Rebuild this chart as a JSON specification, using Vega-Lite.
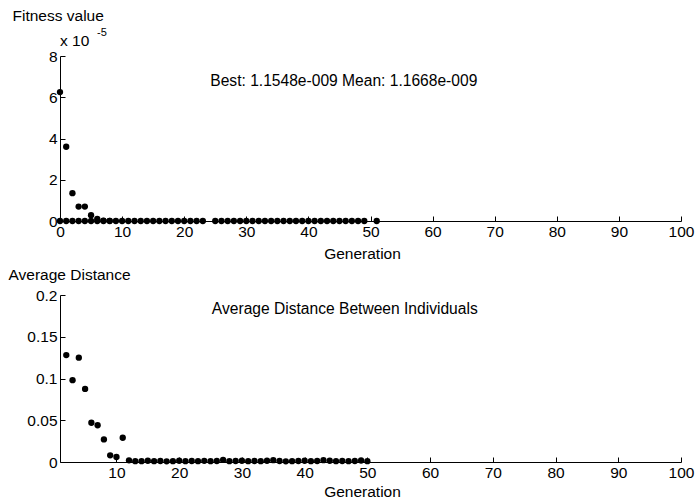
{
  "$schema": "https://vega.github.io/schema/vega-lite/v6.json",
  "background": "white",
  "padding": {"left": 8, "top": 8, "right": 10, "bottom": 4},
  "config": {
    "view": {"stroke": null},
    "font": "Liberation Sans",
    "axis": {
      "grid": false,
      "domainColor": "black",
      "tickColor": "black",
      "labelColor": "black",
      "titleColor": "black",
      "labelFont": "Liberation Sans",
      "titleFont": "Liberation Sans",
      "labelFontSize": 15.5,
      "titleFontSize": 15.5,
      "titleFontWeight": "normal",
      "tickSize": -5,
      "labelPadding": 8,
      "labelFlush": false,
      "labelOverlap": false
    }
  },
  "bounds": "flush",
  "spacing": 74,
  "datasets": {
    "fitness": [
      {"generation": 0, "series": "Mean", "value": 6.25e-5},
      {"generation": 1, "series": "Mean", "value": 3.6e-5},
      {"generation": 2, "series": "Mean", "value": 1.35e-5},
      {"generation": 3, "series": "Mean", "value": 0.7e-5},
      {"generation": 4, "series": "Mean", "value": 0.7e-5},
      {"generation": 5, "series": "Mean", "value": 0.28e-5},
      {"generation": 6, "series": "Mean", "value": 0.1e-5},
      {"generation": 7, "series": "Mean", "value": 0.02e-5},
      {"generation": 8, "series": "Mean", "value": 0.01e-5},
      {"generation": 0, "series": "Best", "value": 0},
      {"generation": 1, "series": "Best", "value": 0},
      {"generation": 2, "series": "Best", "value": 0},
      {"generation": 3, "series": "Best", "value": 0},
      {"generation": 4, "series": "Best", "value": 0},
      {"generation": 5, "series": "Best", "value": 0},
      {"generation": 6, "series": "Best", "value": 0},
      {"generation": 7, "series": "Best", "value": 0},
      {"generation": 8, "series": "Best", "value": 0},
      {"generation": 9, "series": "Best", "value": 0},
      {"generation": 10, "series": "Best", "value": 0},
      {"generation": 11, "series": "Best", "value": 0},
      {"generation": 12, "series": "Best", "value": 0},
      {"generation": 13, "series": "Best", "value": 0},
      {"generation": 14, "series": "Best", "value": 0},
      {"generation": 15, "series": "Best", "value": 0},
      {"generation": 16, "series": "Best", "value": 0},
      {"generation": 17, "series": "Best", "value": 0},
      {"generation": 18, "series": "Best", "value": 0},
      {"generation": 19, "series": "Best", "value": 0},
      {"generation": 20, "series": "Best", "value": 0},
      {"generation": 21, "series": "Best", "value": 0},
      {"generation": 22, "series": "Best", "value": 0},
      {"generation": 23, "series": "Best", "value": 0},
      {"generation": 25, "series": "Best", "value": 0},
      {"generation": 26, "series": "Best", "value": 0},
      {"generation": 27, "series": "Best", "value": 0},
      {"generation": 28, "series": "Best", "value": 0},
      {"generation": 29, "series": "Best", "value": 0},
      {"generation": 30, "series": "Best", "value": 0},
      {"generation": 31, "series": "Best", "value": 0},
      {"generation": 32, "series": "Best", "value": 0},
      {"generation": 33, "series": "Best", "value": 0},
      {"generation": 34, "series": "Best", "value": 0},
      {"generation": 35, "series": "Best", "value": 0},
      {"generation": 36, "series": "Best", "value": 0},
      {"generation": 37, "series": "Best", "value": 0},
      {"generation": 38, "series": "Best", "value": 0},
      {"generation": 39, "series": "Best", "value": 0},
      {"generation": 40, "series": "Best", "value": 0},
      {"generation": 41, "series": "Best", "value": 0},
      {"generation": 42, "series": "Best", "value": 0},
      {"generation": 43, "series": "Best", "value": 0},
      {"generation": 44, "series": "Best", "value": 0},
      {"generation": 45, "series": "Best", "value": 0},
      {"generation": 46, "series": "Best", "value": 0},
      {"generation": 47, "series": "Best", "value": 0},
      {"generation": 48, "series": "Best", "value": 0},
      {"generation": 49, "series": "Best", "value": 0},
      {"generation": 51, "series": "Best", "value": 0}
    ],
    "distance": [
      {"generation": 2, "value": 0.128},
      {"generation": 3, "value": 0.098},
      {"generation": 4, "value": 0.125},
      {"generation": 5, "value": 0.0875},
      {"generation": 6, "value": 0.047},
      {"generation": 7, "value": 0.044},
      {"generation": 8, "value": 0.027},
      {"generation": 9, "value": 0.008},
      {"generation": 10, "value": 0.006},
      {"generation": 11, "value": 0.029},
      {"generation": 12, "value": 0.002},
      {"generation": 13, "value": 0.001},
      {"generation": 14, "value": 0.001},
      {"generation": 15, "value": 0.0015},
      {"generation": 16, "value": 0.001},
      {"generation": 17, "value": 0.0012},
      {"generation": 18, "value": 0.0008},
      {"generation": 19, "value": 0.001},
      {"generation": 20, "value": 0.0015},
      {"generation": 21, "value": 0.001},
      {"generation": 22, "value": 0.0012},
      {"generation": 23, "value": 0.001},
      {"generation": 24, "value": 0.0014},
      {"generation": 25, "value": 0.001},
      {"generation": 26, "value": 0.0012},
      {"generation": 27, "value": 0.0025},
      {"generation": 28, "value": 0.001},
      {"generation": 29, "value": 0.0012},
      {"generation": 30, "value": 0.0015},
      {"generation": 31, "value": 0.001},
      {"generation": 32, "value": 0.0012},
      {"generation": 33, "value": 0.001},
      {"generation": 34, "value": 0.0015},
      {"generation": 35, "value": 0.0022},
      {"generation": 36, "value": 0.0012},
      {"generation": 37, "value": 0.0008},
      {"generation": 38, "value": 0.001},
      {"generation": 39, "value": 0.0012},
      {"generation": 40, "value": 0.0015},
      {"generation": 41, "value": 0.001},
      {"generation": 42, "value": 0.0012},
      {"generation": 43, "value": 0.0022},
      {"generation": 44, "value": 0.0015},
      {"generation": 45, "value": 0.001},
      {"generation": 46, "value": 0.0012},
      {"generation": 47, "value": 0.001},
      {"generation": 48, "value": 0.0012},
      {"generation": 49, "value": 0.0018},
      {"generation": 50, "value": 0.001}
    ],
    "topText": [
      {"generation": 45.7, "value": 6.55e-5, "label": "Best: 1.1548e-009 Mean: 1.1668e-009"}
    ],
    "scaleText": [
      {"generation": 0, "value": 8e-5, "label": "x 10"}
    ],
    "expText": [
      {"generation": 0, "value": 8e-5, "label": "-5"}
    ],
    "bottomText": [
      {"generation": 46.4, "value": 0.177, "label": "Average Distance Between Individuals"}
    ]
  },
  "vconcat": [
    {
      "width": 621,
      "height": 165,
      "layer": [
        {
          "data": {"name": "fitness"},
          "mark": {"type": "circle", "size": 40, "opacity": 1, "color": "black"},
          "encoding": {
            "x": {
              "field": "generation", "type": "quantitative",
              "scale": {"domain": [0, 100], "nice": false, "zero": false},
              "axis": {"values": [0, 10, 20, 30, 40, 50, 60, 70, 80, 90, 100], "title": "Generation", "titlePadding": 7, "titleX": 302}
            },
            "y": {
              "field": "value", "type": "quantitative",
              "scale": {"domain": [0, 8e-5], "nice": false},
              "axis": {
                "values": [0, 2e-5, 4e-5, 6e-5, 8e-5],
                "labelExpr": "format(round(datum.value*1e5), 'd')",
                "title": "Fitness value",
                "titleAngle": 0,
                "titleAlign": "left",
                "titleBaseline": "alphabetic",
                "titleX": -48,
                "titleY": -36
              }
            }
          }
        },
        {
          "data": {"name": "topText"},
          "mark": {"type": "text", "fontSize": 15.6, "font": "Liberation Sans", "color": "black", "align": "center", "baseline": "alphabetic"},
          "encoding": {
            "x": {"field": "generation", "type": "quantitative"},
            "y": {"field": "value", "type": "quantitative"},
            "text": {"field": "label"}
          }
        },
        {
          "data": {"name": "scaleText"},
          "mark": {"type": "text", "fontSize": 15.5, "font": "Liberation Sans", "color": "black", "align": "left", "baseline": "alphabetic", "dy": -10},
          "encoding": {
            "x": {"field": "generation", "type": "quantitative"},
            "y": {"field": "value", "type": "quantitative"},
            "text": {"field": "label"}
          }
        },
        {
          "data": {"name": "expText"},
          "mark": {"type": "text", "fontSize": 11, "font": "Liberation Sans", "color": "black", "align": "left", "baseline": "alphabetic", "dx": 37, "dy": -20},
          "encoding": {
            "x": {"field": "generation", "type": "quantitative"},
            "y": {"field": "value", "type": "quantitative"},
            "text": {"field": "label"}
          }
        }
      ]
    },
    {
      "width": 621,
      "height": 167,
      "layer": [
        {
          "data": {"name": "distance"},
          "mark": {"type": "circle", "size": 40, "opacity": 1, "color": "black"},
          "encoding": {
            "x": {
              "field": "generation", "type": "quantitative",
              "scale": {"domain": [1, 100], "nice": false, "zero": false},
              "axis": {"values": [10, 20, 30, 40, 50, 60, 70, 80, 90, 100], "title": "Generation", "titlePadding": 4, "titleX": 302}
            },
            "y": {
              "field": "value", "type": "quantitative",
              "scale": {"domain": [0, 0.2], "nice": false},
              "axis": {
                "values": [0, 0.05, 0.1, 0.15, 0.2],
                "format": "~g",
                "title": "Average Distance",
                "titleAngle": 0,
                "titleAlign": "left",
                "titleBaseline": "alphabetic",
                "titleX": -52,
                "titleY": -16
              }
            }
          }
        },
        {
          "data": {"name": "bottomText"},
          "mark": {"type": "text", "fontSize": 15.6, "font": "Liberation Sans", "color": "black", "align": "center", "baseline": "alphabetic"},
          "encoding": {
            "x": {"field": "generation", "type": "quantitative"},
            "y": {"field": "value", "type": "quantitative"},
            "text": {"field": "label"}
          }
        }
      ]
    }
  ]
}
